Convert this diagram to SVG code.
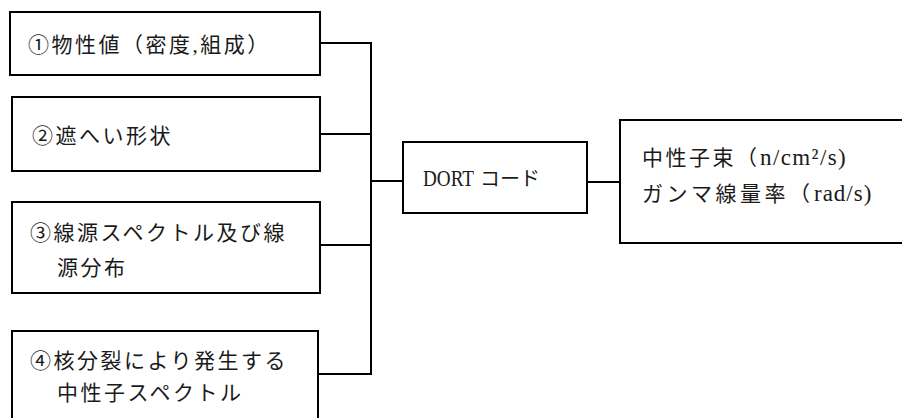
<svg xmlns="http://www.w3.org/2000/svg" width="902" height="418" viewBox="0 0 902 418">
<style>
.box{fill:#fff;stroke:#000;stroke-width:2}
.t{font-family:"Liberation Serif","Noto Sans CJK JP",serif;font-size:21px;fill:#1a1a1a}
.ls{letter-spacing:2.5px}
.lat{font-size:23px}
.c{fill:none;stroke:#000;stroke-width:2}
</style>
<rect width="902" height="418" fill="#fff"/>
<g id="connectors">
<path class="c" d="M320 43H371M320 134H371M320 245H371M318 374H371M371 42V375M371 181H403M587 182H620"/>
</g>
<g id="n1">
<rect class="box" x="10" y="12" width="310" height="63"/>
<text class="t ls" x="28" y="52">①物性値（密度,組成）</text>
</g>
<g id="n2">
<rect class="box" x="12" y="97" width="308" height="74"/>
<text class="t ls" x="32" y="143">②遮へい形状</text>
</g>
<g id="n3">
<rect class="box" x="12" y="202" width="308" height="91"/>
<text class="t ls" x="30" y="240">③線源スペクトル及び線</text>
<text class="t ls" x="57" y="275">源分布</text>
</g>
<g id="n4">
<rect class="box" x="12" y="331" width="306" height="92"/>
<text class="t ls" x="30" y="368">④核分裂により発生する</text>
<text class="t ls" x="57" y="400">中性子スペクトル</text>
</g>
<g id="dort">
<rect class="box" x="403" y="142" width="184" height="71"/>
<text class="t" x="423" y="186"><tspan class="lat" textLength="51" lengthAdjust="spacingAndGlyphs">DORT</tspan><tspan x="480" font-size="20">コード</tspan></text>
</g>
<g id="out">
<rect class="box" x="620" y="120" width="290" height="123"/>
<text class="t" x="642" y="165"><tspan letter-spacing="2.5">中性子束（</tspan><tspan class="lat" x="760" letter-spacing="1.4">n/cm²/s)</tspan></text>
<text class="t" x="642" y="201"><tspan letter-spacing="3.5">ガンマ線量率（</tspan><tspan class="lat" x="814" letter-spacing="1">rad/s)</tspan></text>
</g>
</svg>
